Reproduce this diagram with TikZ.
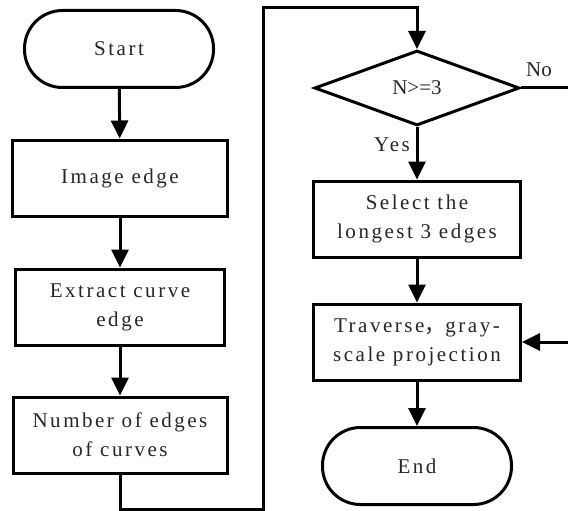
\documentclass[tikz,border=0pt]{standalone}
\usepackage{fontspec}
\setmainfont{Liberation Serif}[LetterSpace=12]
\newfontfamily\cjk{Noto Sans CJK SC}
\newfontfamily\tightfont{Liberation Serif}
\usetikzlibrary{arrows.meta, shapes.geometric, positioning}

\tikzset{
  flowbox/.style={draw, rectangle, minimum width=#1, minimum height=76pt,
    align=center, inner sep=0pt},
  flowbox/.default=212pt,
  term/.style={draw, rectangle, rounded corners=38pt, minimum width=189pt,
    minimum height=77pt, align=center},
  cond/.style={draw, diamond, aspect=2.7, minimum width=205pt,
    minimum height=75pt, inner sep=0pt},
}

\begin{document}
\begin{tikzpicture}[x=1pt, y=-1pt, line width=3pt,
  font=\fontsize{21}{29}\selectfont, text=black!85,
  >={Triangle[length=18pt,width=17pt]}]
\useasboundingbox (0,0) rectangle (568,511);

% left column
\node[term] (start) at (119,49) {Start};
\node[flowbox=215pt] (img) at (120,178) {Image edge};
\node[flowbox=209pt] (extract) at (120,307) {Extract curve\\edge};
\node[flowbox=214pt] (num) at (120,435) {Number of edges\\of curves};

% right column
\node[cond] (cnt) at (417,88) {\tightfont N>=3};
\node[flowbox=207pt] (sel) at (417,219) {Select the\\longest 3 edges};
\node[flowbox=207pt] (trav) at (417,342) {Traverse{\cjk ，}gray-\\scale projection};
\node[term] (end) at (417,466) {End};

\coordinate (low) at (263,509);
\coordinate (high) at (263,8);
\coordinate (noend) at (568,88);
\coordinate (backin) at (568,342);

\draw[->] (start) -- (img);
\draw[->] (img) -- (extract);
\draw[->] (extract) -- (num);
\draw[->] (num.south) |- (low) -- (high) -| (cnt.north);
\draw[->] (cnt.south) -- (sel);
\draw[->] (sel) -- (trav);
\draw[->] (trav) -- (end);
\draw (cnt.east) -- (noend);
\draw[->] (backin) -- (trav.east);

\node (no) at (539,70) {\tightfont No};
\node (yes) at (392,145) {Yes};
\end{tikzpicture}
\end{document}
